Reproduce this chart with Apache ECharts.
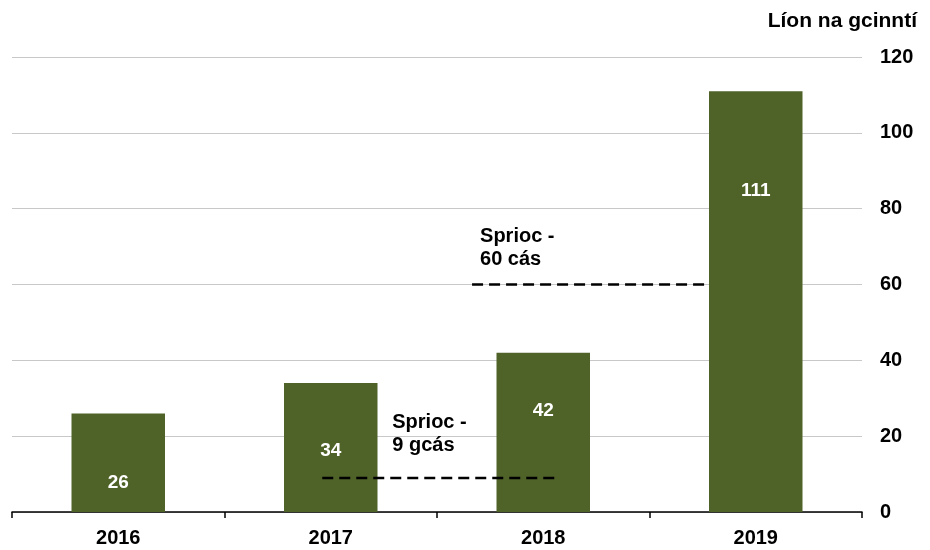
<!DOCTYPE html>
<html>
<head>
<meta charset="utf-8">
<script src="https://cdn.jsdelivr.net/npm/echarts@6/dist/echarts.min.js"></script>
<style>
  html, body { margin: 0; padding: 0; background: #fff; }
  #chart { width: 930px; height: 550px; }
</style>
</head>
<body>
<div id="chart"></div>
<script>
// data
var years = ['2016', '2017', '2018', '2019'];
var decisions = [26, 34, 42, 111];
var yTicks = [0, 20, 40, 60, 80, 100, 120];
// targets: [start, end] on a 0..4 category-span scale, and the level
var targetLow = { name: 'Sprioc -\n9 gcás', from: 1.46, to: 2.57, level: 9 };
var targetHigh = { name: 'Sprioc -\n60 cás', from: 2.165, to: 3.275, level: 60 };

// label nudges (style only)
var labelShift = [20, 3, -22, -111];

var font = 'Liberation Sans, Arial, sans-serif';
var green = '#4F6228';

var chart = echarts.init(document.getElementById('chart'));

function targetSeries(t, off) {
  return {
    type: 'line',
    xAxisIndex: 1,
    yAxisIndex: 0,
    symbol: 'circle',
    symbolSize: 0,
    showSymbol: true,
    silent: true,
    z: 5,
    lineStyle: { color: '#000', width: 2.5, type: [11, 6] },
    data: [
      { value: [t.from, t.level], label: {
          show: true, position: 'top', offset: off, align: 'left',
          formatter: t.name, color: '#000', fontFamily: font,
          fontWeight: 'bold', fontSize: 20, lineHeight: 23
        } },
      [t.to, t.level]
    ]
  };
}

var tickText = { color: '#000', fontFamily: font, fontWeight: 'bold', fontSize: 20 };

var option = {
  animation: false,
  title: {
    text: 'Líon na gcinntí',
    right: 8,
    top: 6,
    textStyle: { fontFamily: font, fontWeight: 'bold', fontSize: 21, color: '#000' }
  },
  grid: { left: 12, right: 68, top: 57, bottom: 38 },
  xAxis: [
    {
      type: 'category',
      data: years,
      axisLine: { lineStyle: { color: '#000', width: 1.5 } },
      axisTick: { show: true, length: 6, lineStyle: { color: '#000', width: 1.5 } },
      axisLabel: Object.assign({ margin: 16 }, tickText)
    },
    { type: 'value', min: 0, max: 4, show: false }
  ],
  yAxis: {
    type: 'value',
    position: 'right',
    min: yTicks[0],
    max: yTicks[yTicks.length - 1],
    interval: 20,
    axisLine: { show: false },
    axisTick: { show: false },
    splitLine: { lineStyle: { color: '#c8c8c8', width: 1 } },
    axisLabel: Object.assign({ margin: 18 }, tickText)
  },
  series: [
    {
      type: 'bar',
      barWidth: '44%',
      itemStyle: { color: green },
      data: decisions.map(function (v, i) {
        return {
          value: v,
          label: {
            show: true, position: 'inside', offset: [0, labelShift[i]],
            color: '#fff', fontFamily: font, fontWeight: 'bold', fontSize: 19
          }
        };
      })
    },
    targetSeries(targetLow, [70, -16]),
    targetSeries(targetHigh, [8, -9])
  ]
};

chart.setOption(option);
</script>
</body>
</html>
